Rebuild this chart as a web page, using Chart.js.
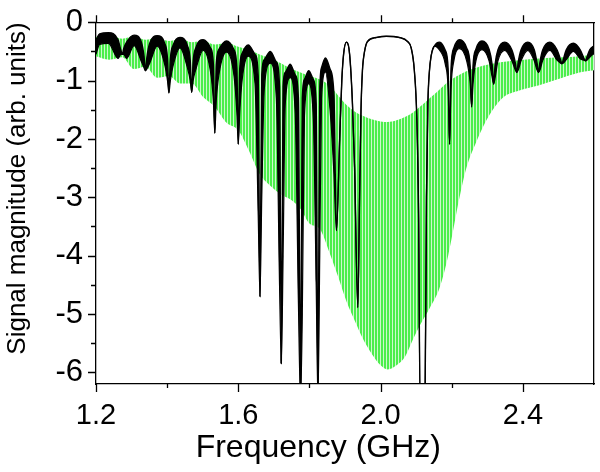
<!DOCTYPE html>
<html>
<head>
<meta charset="utf-8">
<script src="https://cdn.jsdelivr.net/npm/chart.js@4.4.1/dist/chart.umd.min.js"></script>
<style>
  html, body { margin: 0; padding: 0; background: #fff; }
  canvas { display: block; }
</style>
</head>
<body>
<canvas id="chart" width="600" height="472"></canvas>
<script>
// black trace: upper edge of the ripple band and its lower edge (same frequencies)
const blackFreq = [
  1.200, 1.210, 1.235, 1.262, 1.270, 1.274, 1.278, 1.286, 1.307, 1.328, 1.335, 1.339,
  1.343, 1.351, 1.372, 1.393, 1.401, 1.405, 1.409, 1.417, 1.436, 1.457, 1.465, 1.469,
  1.473, 1.481, 1.501, 1.522, 1.530, 1.534, 1.538, 1.546, 1.567, 1.588, 1.596, 1.600,
  1.604, 1.611, 1.628, 1.647, 1.656, 1.661, 1.666, 1.673, 1.690, 1.707, 1.716, 1.721,
  1.726, 1.732, 1.746, 1.760, 1.769, 1.775, 1.780, 1.786, 1.798, 1.811, 1.819, 1.824,
  1.829, 1.834, 1.845, 1.858, 1.869, 1.876, 1.885, 1.891, 1.896, 1.904, 1.913, 1.921,
  1.927, 1.936, 1.941, 1.945, 1.949, 1.955, 1.963, 1.988, 2.016, 2.053, 2.076, 2.086,
  2.095, 2.102, 2.107, 2.111, 2.125, 2.129, 2.133, 2.137, 2.142, 2.151, 2.166, 2.182,
  2.190, 2.194, 2.198, 2.206, 2.222, 2.242, 2.252, 2.256, 2.260, 2.268, 2.285, 2.305,
  2.314, 2.318, 2.322, 2.330, 2.349, 2.369, 2.379, 2.383, 2.387, 2.395, 2.414, 2.432,
  2.440, 2.444, 2.448, 2.456, 2.476, 2.496, 2.506, 2.510, 2.514, 2.522, 2.542, 2.562,
  2.572, 2.576, 2.580, 2.588, 2.600
];
const blackTop = [
  -0.30, -0.20, -0.18, -0.30, -0.48, -0.55, -0.45, -0.34, -0.22, -0.35, -0.58, -0.83,
  -0.60, -0.36, -0.23, -0.36, -0.62, -1.21, -0.64, -0.39, -0.26, -0.40, -0.66, -1.20,
  -0.68, -0.43, -0.30, -0.44, -0.72, -1.90, -0.72, -0.46, -0.32, -0.47, -0.78, -2.09,
  -0.80, -0.53, -0.39, -0.55, -0.92, -4.70, -0.90, -0.64, -0.50, -0.68, -1.10, -5.85,
  -1.10, -0.86, -0.72, -0.90, -1.30, -6.50, -1.30, -0.98, -0.83, -0.98, -1.40, -6.50,
  -1.20, -0.78, -0.61, -0.80, -1.25, -3.57, -2.00, -1.00, -0.55, -0.34, -0.55, -1.40,
  -2.50, -4.89, -3.00, -1.50, -0.83, -0.50, -0.33, -0.26, -0.24, -0.26, -0.33, -0.44,
  -0.83, -1.67, -3.35, -6.50, -6.50, -3.00, -1.40, -0.86, -0.58, -0.41, -0.34, -0.48,
  -0.80, -2.09, -0.80, -0.44, -0.30, -0.44, -0.76, -1.45, -0.74, -0.46, -0.32, -0.46,
  -0.74, -1.06, -0.72, -0.47, -0.34, -0.47, -0.70, -0.86, -0.68, -0.47, -0.34, -0.47,
  -0.70, -0.86, -0.68, -0.47, -0.34, -0.47, -0.64, -0.71, -0.63, -0.47, -0.36, -0.48,
  -0.62, -0.66, -0.60, -0.47, -0.40
];
const blackBottom = [
  -0.55, -0.38, -0.36, -0.62, -0.55, -0.55, -0.55, -0.62, -0.40, -0.68, -0.78, -0.83,
  -0.80, -0.70, -0.41, -0.72, -1.00, -1.21, -1.00, -0.74, -0.44, -0.78, -1.00, -1.20,
  -1.00, -0.80, -0.48, -0.85, -1.35, -1.90, -1.35, -0.88, -0.51, -0.92, -1.55, -2.09,
  -1.55, -0.98, -0.58, -1.05, -3.30, -4.70, -3.00, -1.15, -0.70, -1.30, -4.50, -5.85,
  -4.00, -1.40, -0.95, -1.55, -4.80, -6.50, -5.00, -1.60, -1.05, -1.65, -4.50, -6.50,
  -4.00, -1.30, -0.85, -1.50, -2.60, -3.57, -2.00, -1.00, -0.55, -0.34, -0.55, -1.40,
  -2.50, -4.89, -3.00, -1.50, -0.83, -0.50, -0.33, -0.26, -0.24, -0.26, -0.33, -0.44,
  -0.83, -1.67, -3.35, -6.50, -6.50, -3.00, -1.40, -0.86, -0.58, -0.41, -0.48, -0.72,
  -1.15, -2.09, -1.15, -0.66, -0.45, -0.66, -1.05, -1.45, -1.05, -0.66, -0.47, -0.66,
  -0.95, -1.06, -0.95, -0.66, -0.48, -0.66, -0.82, -0.86, -0.82, -0.66, -0.48, -0.66,
  -0.82, -0.86, -0.82, -0.65, -0.48, -0.65, -0.70, -0.71, -0.70, -0.64, -0.50, -0.63,
  -0.65, -0.66, -0.65, -0.60, -0.53
];

// green trace: envelope of the dense oscillation
const greenFreq = [
  1.200, 1.237, 1.274, 1.306, 1.339, 1.372, 1.405, 1.437, 1.469, 1.501, 1.534, 1.567,
  1.600, 1.630, 1.660, 1.690, 1.720, 1.750, 1.775, 1.800, 1.830, 1.856, 1.880, 1.905,
  1.930, 1.950, 1.975, 2.000, 2.020, 2.045, 2.070, 2.090, 2.110, 2.138, 2.166, 2.190,
  2.222, 2.241, 2.269, 2.306, 2.342, 2.390, 2.446, 2.511, 2.559, 2.600
];
const greenTop = [
  -0.25, -0.22, -0.28, -0.24, -0.30, -0.26, -0.32, -0.28, -0.34, -0.32, -0.38, -0.35,
  -0.42, -0.47, -0.55, -0.62, -0.70, -0.80, -0.86, -0.92, -0.98, -1.08, -1.25, -1.42,
  -1.54, -1.60, -1.66, -1.70, -1.71, -1.68, -1.62, -1.55, -1.45, -1.30, -1.15, -1.02,
  -0.90, -0.84, -0.78, -0.72, -0.68, -0.65, -0.62, -0.60, -0.58, -0.55
];
const greenBottom = [
  -0.58, -0.64, -0.60, -0.80, -0.76, -0.95, -0.92, -1.05, -1.05, -1.28, -1.45, -1.72,
  -1.85, -2.20, -2.60, -2.80, -2.95, -3.05, -3.20, -3.45, -3.55, -3.94, -4.35, -4.80,
  -5.15, -5.42, -5.68, -5.88, -5.95, -5.88, -5.72, -5.45, -5.20, -4.90, -4.55, -4.00,
  -3.00, -2.50, -2.05, -1.59, -1.30, -1.17, -1.08, -0.95, -0.86, -0.82
];

// axes
const xLabels = [1.2, 1.6, 2.0, 2.4];
const xMinor = [1.4, 1.8, 2.2];
const yLabels = [0, -1, -2, -3, -4, -5, -6];
const yMinor = [-0.5, -1.5, -2.5, -3.5, -4.5, -5.5];

const FONT = '"Liberation Sans", Arial, sans-serif';

const pts = (xs, ys) => xs.map((x, i) => ({ x, y: ys[i] }));

// vertical stripes, like the sampled green oscillation
const stripe = (() => {
  const c = document.createElement('canvas');
  c.width = 3; c.height = 1;
  const g = c.getContext('2d');
  g.fillStyle = '#4cee4c'; g.fillRect(0, 0, 2, 1);
  g.fillStyle = '#cdf9cd'; g.fillRect(2, 0, 1, 1);
  return g.createPattern(c, 'repeat');
})();

const tickMarks = {
  id: 'tickMarks',
  afterDraw(chart) {
    const { ctx, chartArea: a, scales: { x, y } } = chart;
    ctx.save();
    ctx.strokeStyle = '#000';
    ctx.lineWidth = 1.3;
    ctx.beginPath();
    const xt = (v, len, topLen) => {
      const p = Math.round(x.getPixelForValue(v)) + 0.5;
      ctx.moveTo(p, a.bottom); ctx.lineTo(p, a.bottom + len);
      ctx.moveTo(p, a.top); ctx.lineTo(p, a.top - topLen);
    };
    const yt = (v, len) => {
      const p = Math.round(y.getPixelForValue(v)) + 0.5;
      ctx.moveTo(a.left, p); ctx.lineTo(a.left - len, p);
    };
    xLabels.forEach((v) => xt(v, 8, 7));
    xMinor.forEach((v) => xt(v, 4, 4));
    yLabels.forEach((v) => yt(v, 8));
    yMinor.forEach((v) => yt(v, 5));
    ctx.stroke();
    ctx.restore();
  },
};

const hiddenAxis = (position) => ({
  type: 'linear',
  position,
  min: position === 'top' ? 1.2 : -6.2,
  max: position === 'top' ? 2.6 : 0,
  ticks: { display: false },
  grid: { drawOnChartArea: false, drawTicks: false },
  border: { color: '#000', width: 1.3 },
  afterFit: (s) => { if (position === 'top') s.height = 0; else s.width = 0; },
});

new Chart(document.getElementById('chart'), {
  type: 'line',
  data: {
    datasets: [
      {
        data: pts(blackFreq, blackTop),
        borderColor: '#000',
        borderWidth: 1.4,
        backgroundColor: '#000',
        fill: '+1',
        pointRadius: 0,
        cubicInterpolationMode: 'monotone',
      },
      {
        data: pts(blackFreq, blackBottom),
        borderColor: '#000',
        borderWidth: 1.2,
        fill: false,
        pointRadius: 0,
        cubicInterpolationMode: 'monotone',
      },
      {
        data: pts(greenFreq, greenTop),
        borderColor: 'rgba(0,0,0,0)',
        borderWidth: 0,
        backgroundColor: stripe,
        fill: '+1',
        pointRadius: 0,
        cubicInterpolationMode: 'monotone',
      },
      {
        data: pts(greenFreq, greenBottom),
        borderColor: 'rgba(0,0,0,0)',
        borderWidth: 0,
        fill: false,
        pointRadius: 0,
        cubicInterpolationMode: 'monotone',
      },
    ],
  },
  options: {
    responsive: false,
    animation: false,
    layout: { padding: { top: 15, right: 6, left: 0, bottom: 0 } },
    plugins: { legend: { display: false }, tooltip: { enabled: false } },
    scales: {
      x: {
        type: 'linear',
        min: 1.2,
        max: 2.6,
        afterBuildTicks: (s) => { s.ticks = xLabels.map((value) => ({ value })); },
        afterFit: (s) => { s.height = 88; },
        ticks: {
          color: '#000',
          font: { family: FONT, size: 29 },
          padding: 15,
          maxRotation: 0,
          autoSkip: false,
          callback: (v) => v.toFixed(1),
        },
        grid: { drawOnChartArea: false, drawTicks: false },
        border: { color: '#000', width: 1.3 },
        title: {
          display: true,
          text: 'Frequency (GHz)      ',
          color: '#000',
          font: { family: FONT, size: 32 },
          padding: { top: 0, bottom: 5 },
        },
      },
      y: {
        type: 'linear',
        min: -6.2,
        max: 0,
        afterBuildTicks: (s) => { s.ticks = yLabels.map((value) => ({ value })); },
        afterFit: (s) => { s.width = 96; },
        ticks: {
          color: '#000',
          font: { family: FONT, size: 31, lineHeight: 0.6 },
          padding: 13,
          callback: (v) => (v === 0 ? '0' : String(v)),
        },
        grid: { drawOnChartArea: false, drawTicks: false },
        border: { color: '#000', width: 1.3 },
        title: {
          display: true,
          text: 'Signal magnitude (arb. units)',
          color: '#000',
          align: 'end',
          font: { family: FONT, size: 26 },
          padding: { top: 2, bottom: 0 },
        },
      },
      x2: hiddenAxis('top'),
      y2: hiddenAxis('right'),
    },
  },
  plugins: [tickMarks],
});
</script>
</body>
</html>
